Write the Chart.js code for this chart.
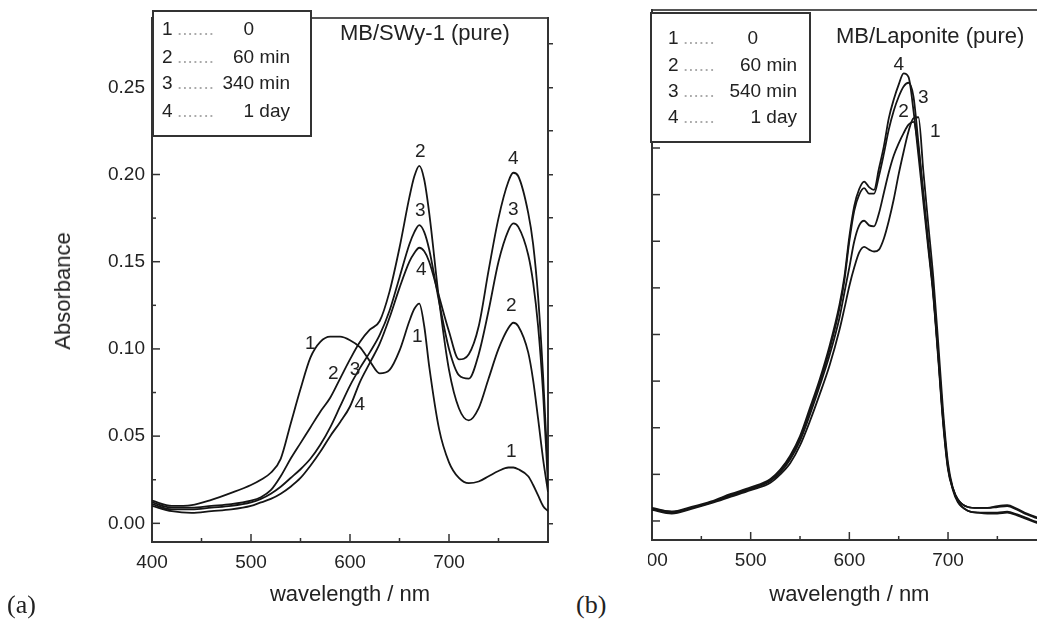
<!DOCTYPE html>
<html>
<head>
<meta charset="utf-8">
<script src="https://cdn.jsdelivr.net/npm/chart.js@4/dist/chart.umd.min.js"></script>
<style>
  body { margin: 0; background: #fff; width: 1037px; height: 621px; overflow: hidden; position: relative;
         font-family: 'Liberation Sans', Arial, sans-serif; color: #222; }
  #chartA { position: absolute; left: 0; top: 0; }
  #clipB { position: absolute; left: 648px; top: 0; width: 389px; height: 621px; overflow: hidden; }
  #chartB { position: absolute; left: -48px; top: 0; }
  .box { position: absolute; background: #fff; border: 2px solid #333; box-sizing: border-box; }
  .txt { position: absolute; white-space: nowrap; transform: translateY(-50%); }
  .title { font-size: 22px; }
  .leg { font-size: 19px; }
  .dots { color: #aaa; }
  .tag { position: absolute; font-family: 'Liberation Serif', 'Times New Roman', serif; font-size: 26px; transform: translateY(-50%); }
</style>
</head>
<body>
<canvas id="chartA" width="560" height="621"></canvas>
<div id="clipB"><canvas id="chartB" width="460" height="621"></canvas></div>

<div class="txt" style="left:63px; top:291px; font-size:22px; transform: translate(-50%,-50%) rotate(-90deg);">Absorbance</div>
<div class="box" style="left:152px; top:10px; width:160px; height:127px;"></div>
<div class="box" style="left:650px; top:12px; width:161px; height:131px;"></div>
<div class="txt title" style="left:340px; top:33px;">MB/SWy-1 (pure)</div>
<div class="txt title" style="left:836px; top:36px;">MB/Laponite (pure)</div>
<div class="tag" style="left:7px; top:605px;">(a)</div>
<div class="tag" style="left:576px; top:605px;">(b)</div>

<script>
// legend texts
const legendKeys = ['1', '2', '3', '4'];
const legendTimesA = ['0', '60 min', '340 min', '1 day'];
const legendTimesB = ['0', '60 min', '540 min', '1 day'];

// panel (a): MB/SWy-1, wavelength grid (nm) and absorbance per curve
const wlA = [400, 420, 440, 460, 480, 500, 510, 520, 530, 540, 550, 560, 570, 580, 590, 600, 610, 620, 630, 640,
             650, 660, 665, 670, 675, 680, 690, 700, 710, 720, 730, 740, 750, 760, 765, 770, 780, 785, 790, 795, 800];
const absA1 = [.013, .010, .0105, .0135, .0175, .022, .025, .029, .037, .057, .077, .095, .104, .107, .107, .105, .101, .093, .086, .088,
               .099, .116, .123, .126, .113, .090, .054, .035, .026, .023, .024, .027, .030, .032, .032, .031, .027, .022, .016, .010, .007];
const absA2 = [.012, .009, .009, .010, .011, .013, .015, .019, .027, .037, .046, .055, .064, .072, .083, .094, .104, .111, .116, .133,
               .158, .187, .199, .205, .197, .178, .128, .088, .066, .059, .066, .083, .100, .112, .115, .113, .098, .082, .060, .037, .018];
const absA3 = [.011, .008, .008, .009, .010, .012, .014, .017, .021, .026, .031, .037, .045, .055, .067, .079, .089, .098, .108, .122,
               .141, .160, .167, .171, .167, .157, .127, .100, .085, .083, .097, .122, .150, .168, .172, .170, .154, .138, .113, .075, .022];
const absA4 = [.010, .007, .006, .007, .008, .010, .012, .014, .017, .021, .026, .033, .041, .050, .058, .067, .081, .092, .103, .118,
               .135, .150, .155, .158, .156, .150, .130, .110, .094, .097, .113, .145, .175, .196, .201, .199, .178, .160, .130, .085, .028];
// curve numbers written on panel (a): [nm, absorbance, text]
const numbersA = [[671, .213, '2'], [671, .179, '3'], [672, .1455, '4'], [668, .107, '1'],
                  [560, .103, '1'], [583, .086, '2'], [605, .088, '3'], [610, .068, '4'],
                  [765, .209, '4'], [765, .180, '3'], [763, .125, '2'], [763, .041, '1']];

// panel (b): MB/Laponite
const wlB = [400, 420, 440, 460, 480, 500, 520, 530, 540, 550, 560, 570, 580, 590, 595, 600, 605, 610, 615, 620,
             625, 630, 635, 640, 645, 650, 655, 660, 665, 670, 675, 680, 685, 690, 695, 700, 705, 710, 720, 730,
             740, 750, 760, 770, 780, 790, 800];
const absB1 = [.012, .008, .013, .019, .026, .033, .041, .050, .062, .081, .107, .136, .167, .205, .228, .252, .272, .288, .294, .291,
               .289, .291, .303, .322, .345, .372, .396, .418, .432, .433, .375, .318, .262, .192, .118, .062, .035, .021, .011, .009,
               .008, .008, .009, .006, .002, -.002, -.004];
const absB2 = [.013, .009, .014, .020, .027, .034, .043, .052, .066, .086, .114, .145, .178, .218, .245, .272, .300, .317, .322, .317,
               .316, .330, .352, .374, .392, .405, .416, .425, .428, .400, .350, .298, .247, .180, .110, .058, .033, .020, .011, .009,
               .009, .009, .010, .007, .003, -.001, -.003];
const absB3 = [.013, .010, .014, .020, .028, .035, .044, .054, .068, .089, .118, .149, .184, .228, .258, .300, .333, .350, .357, .351,
               .351, .370, .394, .420, .440, .455, .466, .470, .455, .405, .350, .297, .245, .178, .108, .057, .035, .023, .015, .014,
               .014, .015, .016, .012, .007, .003, .001];
const absB4 = [.014, .010, .015, .021, .029, .036, .045, .055, .070, .091, .121, .152, .188, .232, .262, .305, .338, .356, .364, .358,
               .355, .378, .402, .432, .452, .468, .480, .476, .440, .392, .342, .292, .242, .175, .105, .055, .034, .023, .015, .014,
               .014, .016, .017, .013, .008, .004, .002];
const numbersB = [[650, .489, '4'], [675, .454, '3'], [655, .439, '2'], [687, .417, '1']];

Chart.defaults.font.family = "'Liberation Sans', Arial, sans-serif";

function spectrum(label, wl, abs) {
  return {
    label,
    data: wl.map((x, i) => ({ x, y: abs[i] })),
    borderColor: '#151515',
    borderWidth: 1.8,
    pointRadius: 0,
    fill: false,
    cubicInterpolationMode: 'monotone'
  };
}

// Origin-style ticks pointing into the plot
function innerTicks(xStep, xMajor, yStep, yMajor) {
  return {
    id: 'innerTicks',
    afterDatasetsDraw(chart) {
      const { ctx, chartArea: a } = chart;
      ctx.save();
      ctx.strokeStyle = '#333';
      ctx.lineWidth = 1.5;
      [['x', xStep, xMajor], ['y', yStep, yMajor]].forEach(([id, step, major]) => {
        const s = chart.scales[id];
        for (let n = Math.ceil(s.min / step); n * step <= s.max + 1e-9; n++) {
          const v = n * step;
          const len = Math.abs(v / major - Math.round(v / major)) < 1e-6 ? 8 : 4;
          const p = s.getPixelForValue(v);
          ctx.beginPath();
          if (id === 'x') { ctx.moveTo(p, a.bottom); ctx.lineTo(p, a.bottom - len); }
          else { ctx.moveTo(a.left, p); ctx.lineTo(a.left + len, p); }
          ctx.stroke();
        }
      });
      ctx.restore();
    }
  };
}

function curveNumbers(items) {
  return {
    id: 'curveNumbers',
    afterDatasetsDraw(chart) {
      const { ctx, scales: { x, y } } = chart;
      ctx.save();
      ctx.font = "19px 'Liberation Sans', Arial, sans-serif";
      ctx.fillStyle = '#222';
      ctx.textAlign = 'center';
      ctx.textBaseline = 'middle';
      items.forEach(([wl, ab, t]) => ctx.fillText(t, x.getPixelForValue(wl), y.getPixelForValue(ab)));
      ctx.restore();
    }
  };
}

const axisLine = { color: '#333', width: 2 };
const noGrid = { drawOnChartArea: false, drawTicks: false };

function xAxis(height) {
  return {
    type: 'linear', position: 'bottom', min: 400, max: 800,
    ticks: { stepSize: 100, autoSkip: false, maxRotation: 0, padding: 9, color: '#222', font: { size: 19 },
             callback: v => (v < 800 ? v : '') },
    grid: noGrid,
    border: axisLine,
    title: { display: true, text: 'wavelength / nm', color: '#222', font: { size: 22 }, padding: { top: 0, bottom: 13 } },
    afterFit: s => { s.height = height; }
  };
}
const xTop = {
  type: 'linear', position: 'top', min: 400, max: 800,
  ticks: { display: false }, grid: noGrid, border: { color: '#555', width: 2 },
  afterFit: s => { s.height = 0; }
};

// panel (a)
new Chart(document.getElementById('chartA'), {
  type: 'line',
  data: {
    datasets: [
      spectrum('0', wlA, absA1),
      spectrum('60 min', wlA, absA2),
      spectrum('340 min', wlA, absA3),
      spectrum('1 day', wlA, absA4)
    ]
  },
  options: {
    responsive: false,
    animation: false,
    layout: { padding: { top: 10, right: 7, left: 0, bottom: 0 } },
    plugins: { legend: { display: false }, tooltip: { enabled: false } },
    scales: {
      x: xAxis(79),
      xTop,
      y: {
        position: 'left', min: -0.0107, max: 0.2895,
        ticks: { stepSize: 0.05, includeBounds: false, padding: 7, color: '#222', font: { size: 19 },
                 callback: v => v.toFixed(2) },
        grid: noGrid,
        border: axisLine,
        afterFit: s => { s.width = 152; }
      },
      yRight: {
        position: 'right', min: -0.0107, max: 0.2895,
        ticks: { display: false, stepSize: 0.025, includeBounds: false },
        grid: { drawOnChartArea: false, drawTicks: true, tickLength: 5, color: '#333', lineWidth: 1.5 },
        border: axisLine,
        afterFit: s => { s.width = 5; }
      }
    }
  },
  plugins: [innerTicks(50, 100, 0.025, 0.05), curveNumbers(numbersA)]
});

// panel (b)
new Chart(document.getElementById('chartB'), {
  type: 'line',
  data: {
    datasets: [
      spectrum('0', wlB, absB1),
      spectrum('60 min', wlB, absB2),
      spectrum('540 min', wlB, absB3),
      spectrum('1 day', wlB, absB4)
    ]
  },
  options: {
    responsive: false,
    animation: false,
    layout: { padding: { top: 10, right: 13.3, left: 0, bottom: 0 } },
    plugins: { legend: { display: false }, tooltip: { enabled: false } },
    scales: {
      x: xAxis(81),
      xTop,
      y: {
        position: 'left', min: -0.0204, max: 0.548,
        ticks: { display: false, stepSize: 0.05, includeBounds: false },
        grid: noGrid,
        border: axisLine,
        afterFit: s => { s.width = 52; }
      }
    }
  },
  plugins: [innerTicks(50, 100, 0.05, 0.05), curveNumbers(numbersB)]
});

// legend rows inside the boxes
function legendRows(times, rowY, keyX, dotsX, dots, valRight, zeroRight) {
  times.forEach((t, i) => {
    const key = document.createElement('div');
    key.className = 'txt leg';
    key.style.left = keyX + 'px';
    key.style.top = rowY[i] + 'px';
    key.textContent = legendKeys[i];
    document.body.appendChild(key);

    const dot = document.createElement('div');
    dot.className = 'txt leg dots';
    dot.style.left = dotsX + 'px';
    dot.style.top = rowY[i] + 'px';
    dot.textContent = dots;
    document.body.appendChild(dot);

    const val = document.createElement('div');
    val.className = 'txt leg';
    val.style.right = (1037 - (i === 0 ? zeroRight : valRight)) + 'px';
    val.style.top = rowY[i] + 'px';
    val.textContent = t;
    document.body.appendChild(val);
  });
}
legendRows(legendTimesA, [29, 57, 83, 111], 162, 177, '.......', 290, 254);
legendRows(legendTimesB, [38, 65, 91, 117], 668, 683, '......', 797, 758);
</script>
</body>
</html>
